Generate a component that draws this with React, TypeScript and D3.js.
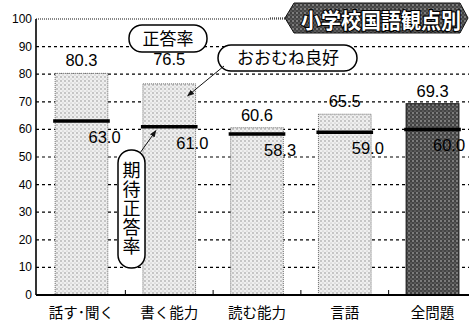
import React, { useRef, useEffect } from 'react';
import * as d3 from 'd3';

const categories = ['話す･聞く', '書く能力', '読む能力', '言語', '全問題'];
const correctRate = [80.3, 76.5, 60.6, 65.5, 69.3];
const expectedRate = [63.0, 61.0, 58.3, 59.0, 60.0];
const yTicks = [0, 10, 20, 30, 40, 50, 60, 70, 80, 90, 100];
const title = '小学校国語観点別';

const NUM_FONT = '"Liberation Sans Narrow", "Liberation Sans", Arial, sans-serif';
const JP_FONT = '"Noto Sans CJK JP", sans-serif';

const App: React.FC = () => {
  const svgRef = useRef<SVGSVGElement>(null);
  const width = 469;
  const height = 324;

  useEffect(() => {
    const svg = d3.select(svgRef.current);
    svg.selectAll('*').remove();

    const left = 36;
    const right = 469;
    const y = d3.scaleLinear().domain([0, 100]).range([295, 19]);
    const x = d3.scaleBand<string>()
      .domain(categories)
      .range([37.6, 476.4])
      .paddingInner(0.4)
      .paddingOuter(0.2);

    // patterns
    const defs = svg.append('defs');
    const light = defs.append('pattern')
      .attr('id', 'lightDots').attr('patternUnits', 'userSpaceOnUse')
      .attr('width', 4).attr('height', 4);
    light.append('rect').attr('width', 4).attr('height', 4).attr('fill', '#efefef');
    light.append('circle').attr('cx', 1).attr('cy', 1).attr('r', 0.65).attr('fill', '#7a7a7a');
    light.append('circle').attr('cx', 3).attr('cy', 3).attr('r', 0.55).attr('fill', '#a8a8a8');

    const dark = defs.append('pattern')
      .attr('id', 'darkNoise').attr('patternUnits', 'userSpaceOnUse')
      .attr('width', 4).attr('height', 4);
    dark.append('rect').attr('width', 4).attr('height', 4).attr('fill', '#454545');
    dark.append('circle').attr('cx', 1).attr('cy', 1).attr('r', 0.7).attr('fill', '#dcdcdc');
    dark.append('circle').attr('cx', 3).attr('cy', 3).attr('r', 0.6).attr('fill', '#9a9a9a');
    dark.append('circle').attr('cx', 3).attr('cy', 1).attr('r', 0.4).attr('fill', '#1a1a1a');

    const arrowHead = defs.append('marker')
      .attr('id', 'arrow').attr('viewBox', '0 0 10 10')
      .attr('refX', 9).attr('refY', 5)
      .attr('markerWidth', 7).attr('markerHeight', 7)
      .attr('orient', 'auto-start-reverse');
    arrowHead.append('path').attr('d', 'M0,1 L10,5 L0,9 Z').attr('fill', '#111');

    // grid
    svg.append('g')
      .selectAll('line')
      .data(yTicks.filter(t => t > 0 && t < 100))
      .enter()
      .append('line')
      .attr('x1', left).attr('x2', right)
      .attr('y1', d => y(d)).attr('y2', d => y(d))
      .attr('stroke', '#000').attr('stroke-width', 1.2)
      .attr('stroke-dasharray', '3,3');

    // top border (dotted) up to the banner
    svg.append('line')
      .attr('x1', left).attr('x2', 286)
      .attr('y1', y(100)).attr('y2', y(100))
      .attr('stroke', '#111').attr('stroke-width', 1.2)
      .attr('stroke-dasharray', '1,1');

    // bars
    const data = categories.map((c, i) => ({ c, v: correctRate[i], e: expectedRate[i], i }));
    const last = categories.length - 1;
    svg.append('g')
      .selectAll('rect')
      .data(data)
      .enter()
      .append('rect')
      .attr('x', d => x(d.c)!)
      .attr('y', d => y(d.v))
      .attr('width', x.bandwidth())
      .attr('height', d => y(0) - y(d.v))
      .attr('fill', d => (d.i === last ? 'url(#darkNoise)' : 'url(#lightDots)'))
      .attr('stroke', d => (d.i === last ? '#222' : '#444'))
      .attr('stroke-width', d => (d.i === last ? 1.2 : 0.8))
      .attr('stroke-dasharray', d => (d.i === last ? null : '1,1'));

    // expected lines
    svg.append('g')
      .selectAll('line')
      .data(data)
      .enter()
      .append('line')
      .attr('x1', d => x(d.c)! - 2)
      .attr('x2', d => x(d.c)! + x.bandwidth() + 2)
      .attr('y1', d => y(d.e)).attr('y2', d => y(d.e))
      .attr('stroke', '#000').attr('stroke-width', 3.5);

    // axes
    svg.append('line')
      .attr('x1', left).attr('x2', left)
      .attr('y1', y(100)).attr('y2', y(0))
      .attr('stroke', '#000').attr('stroke-width', 1.6);
    svg.append('line')
      .attr('x1', left).attr('x2', right)
      .attr('y1', y(0)).attr('y2', y(0))
      .attr('stroke', '#000').attr('stroke-width', 2);

    // small ticks between categories
    svg.append('g')
      .selectAll('line')
      .data(categories.slice(1))
      .enter()
      .append('line')
      .attr('x1', d => x(d)! - x.step() * 0.2)
      .attr('x2', d => x(d)! - x.step() * 0.2)
      .attr('y1', y(0)).attr('y2', y(0) - 5)
      .attr('stroke', '#000').attr('stroke-width', 1);

    // y tick labels
    svg.append('g')
      .selectAll('text')
      .data(yTicks)
      .enter()
      .append('text')
      .attr('x', 32)
      .attr('y', d => y(d) + 4)
      .attr('text-anchor', 'end')
      .style('font-family', NUM_FONT)
      .style('font-size', '12px')
      .text(d => d);

    // x labels
    svg.append('g')
      .selectAll('text')
      .data(categories)
      .enter()
      .append('text')
      .attr('x', d => x(d)! + x.bandwidth() / 2)
      .attr('y', 318)
      .attr('text-anchor', 'middle')
      .style('font-family', JP_FONT)
      .style('font-size', '14.5px')
      .text(d => d);

    // value labels above bars
    svg.append('g')
      .selectAll('text')
      .data(data)
      .enter()
      .append('text')
      .attr('x', d => x(d.c)! + x.bandwidth() / 2)
      .attr('y', d => y(d.v) - (d.i === 1 ? 19 : 7))
      .attr('text-anchor', 'middle')
      .style('font-family', NUM_FONT)
      .style('font-size', '16.5px')
      .text(d => d.v.toFixed(1));

    // expected value labels
    svg.append('g')
      .selectAll('text')
      .data(data)
      .enter()
      .append('text')
      .attr('x', d => Math.min(x(d.c)! + x.bandwidth() / 2 + 7, 468 - 35))
      .attr('y', d => y(d.e) + 22)
      .style('font-family', '"Liberation Sans", Arial, sans-serif')
      .style('font-size', '16.5px')
      .text(d => d.e.toFixed(1));

    // banner
    const banner = svg.append('g');
    banner.append('path')
      .attr('d', 'M270,18 L286,18')
      .attr('stroke', '#111').attr('stroke-width', 1.2)
      .attr('stroke-dasharray', '1,1');
    banner.append('path')
      .attr('d', 'M285,18 L294,3 L460,3 L468,18 L460,33 L294,33 Z')
      .attr('fill', 'url(#darkNoise)')
      .attr('stroke', '#111').attr('stroke-width', 1);
    banner.append('text')
      .attr('x', 381)
      .attr('y', 27.5)
      .attr('text-anchor', 'middle')
      .attr('textLength', 160)
      .attr('lengthAdjust', 'spacingAndGlyphs')
      .style('font-family', JP_FONT)
      .style('font-size', '21px')
      .style('font-weight', 'bold')
      .style('fill', '#fff')
      .style('stroke', '#000')
      .style('stroke-width', 2.2)
      .style('paint-order', 'stroke')
      .text(title);

    // annotation: 正答率
    svg.append('rect')
      .attr('x', 129).attr('y', 25).attr('width', 78).attr('height', 27)
      .attr('rx', 13).attr('fill', '#fff')
      .attr('stroke', '#000').attr('stroke-width', 1.5);
    svg.append('text')
      .attr('x', 168).attr('y', 45)
      .attr('text-anchor', 'middle')
      .style('font-family', JP_FONT)
      .style('font-size', '17px')
      .text('正答率');

    // annotation: おおむね良好
    svg.append('rect')
      .attr('x', 218).attr('y', 45).attr('width', 139).attr('height', 26)
      .attr('rx', 13).attr('fill', '#fff')
      .attr('stroke', '#000').attr('stroke-width', 1.5);
    svg.append('text')
      .attr('x', 288).attr('y', 64)
      .attr('text-anchor', 'middle')
      .style('font-family', JP_FONT)
      .style('font-size', '17px')
      .text('おおむね良好');
    svg.append('line')
      .attr('x1', 224).attr('y1', 66)
      .attr('x2', x(categories[1])! + x.bandwidth() * 0.85)
      .attr('y2', y(correctRate[1]) + 12)
      .attr('stroke', '#111').attr('stroke-width', 1)
      .attr('marker-end', 'url(#arrow)');

    // annotation: 期待正答率 (vertical)
    svg.append('rect')
      .attr('x', 118).attr('y', 150).attr('width', 27).attr('height', 118)
      .attr('rx', 13).attr('fill', '#fff')
      .attr('stroke', '#000').attr('stroke-width', 1.5);
    svg.append('text')
      .attr('x', 131.5)
      .attr('y', 161)
      .style('writing-mode', 'vertical-rl')
      .style('font-family', JP_FONT)
      .style('font-size', '18px')
      .style('letter-spacing', '1px')
      .text('期待正答率');
    svg.append('line')
      .attr('x1', 140).attr('y1', 153)
      .attr('x2', x(categories[1])! + 13)
      .attr('y2', y(expectedRate[1]) + 4)
      .attr('stroke', '#111').attr('stroke-width', 1)
      .attr('marker-end', 'url(#arrow)');
  }, []);

  return (
    <svg
      ref={svgRef}
      width={width}
      height={height}
      style={{ position: 'absolute', left: 0, top: 0, background: '#fff' }}
    />
  );
};

export default App;
